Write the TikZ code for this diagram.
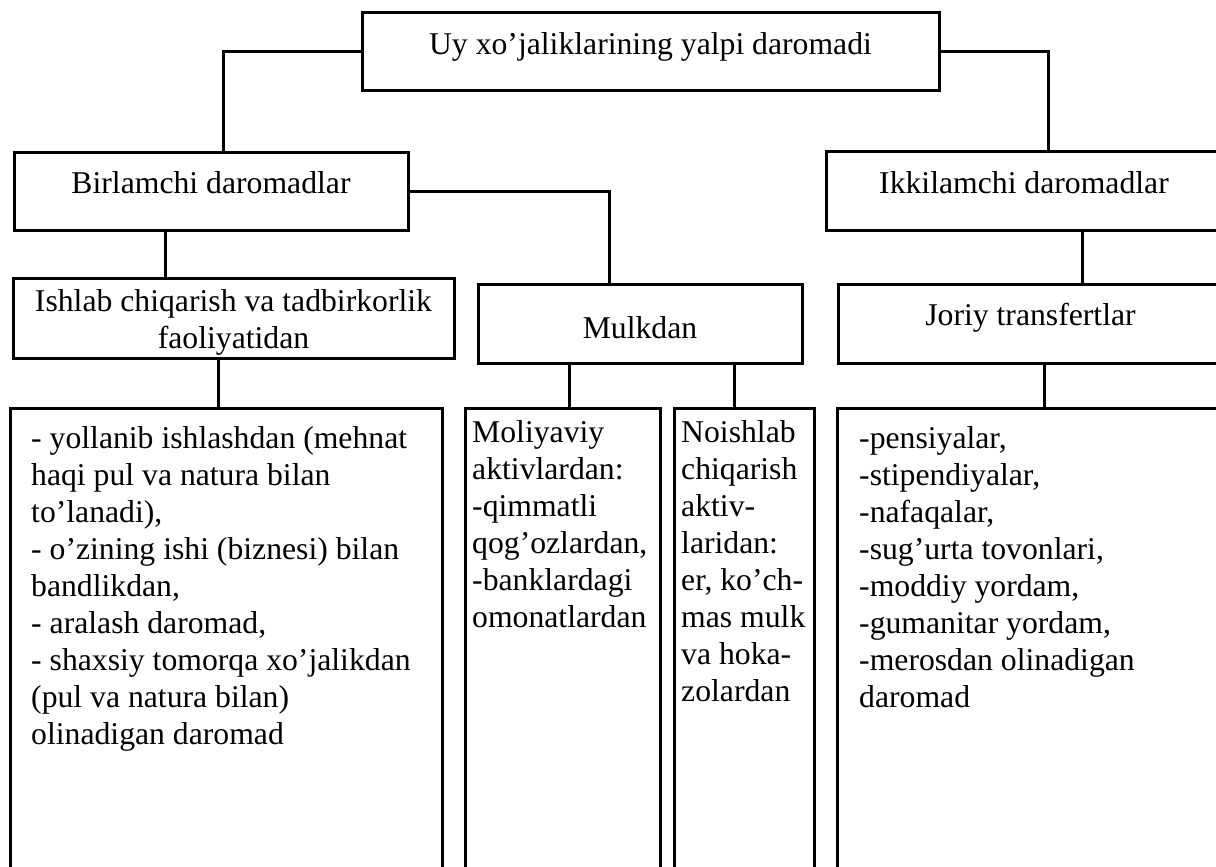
\documentclass[tikz,border=0pt]{standalone}
\usepackage{fontspec}
\setmainfont{Liberation Serif}
\tikzset{
  box/.style={draw=black, line width=3pt, inner sep=0pt, outer sep=0pt, anchor=north west},
  conn/.style={draw=black, line width=3pt},
  lbl/.style={inner sep=0pt, anchor=base, font=\fontsize{31.7}{37}\selectfont},
  lst/.style={inner sep=0pt, anchor=base west, font=\fontsize{31.7}{37}\selectfont},
}
\begin{document}
\begin{tikzpicture}[x=1pt, y=-1pt]
\useasboundingbox (0,0) rectangle (1216,867);
\fill[white] (0,0) rectangle (1216,867);
\clip (0,0) rectangle (1216,867);

% boxes
\node[box, minimum width=577pt, minimum height=78pt] (top) at (362,13) {};
\node[box, minimum width=394pt, minimum height=78pt] (birl) at (14,152) {};
\node[box, minimum width=396pt, minimum height=79pt] (ikki) at (826,151) {};
\node[box, minimum width=441pt, minimum height=80pt] (ishlab) at (13,278) {};
\node[box, minimum width=324pt, minimum height=79pt] (mulk) at (478,284) {};
\node[box, minimum width=385pt, minimum height=79pt] (joriy) at (838,284) {};
\node[box, minimum width=432pt, minimum height=492pt] (lb) at (10,408) {};
\node[box, minimum width=195pt, minimum height=492pt] (mol) at (465,408) {};
\node[box, minimum width=140pt, minimum height=492pt] (noi) at (674,408) {};
\node[box, minimum width=393pt, minimum height=492pt] (rb) at (837,408) {};

% texts
\node[lbl] (ttop) at (650.5,55) {Uy xo’jaliklarining yalpi daromadi};
\node[lbl] (tbirl) at (211,193) {Birlamchi daromadlar};
\node[lbl] (tikki) at (1024,193) {Ikkilamchi daromadlar};
\node[lbl] (tishlab) at (233.5,311) {\begin{tabular}[t]{@{}c@{}}Ishlab chiqarish va tadbirkorlik\\ faoliyatidan\end{tabular}};
\node[lbl] (tmulk) at (640,338) {Mulkdan};
\node[lbl] (tjoriy) at (1030.5,325) {Joriy transfertlar};

\node[lst] (tlb) at (31,448) {\begin{tabular}[t]{@{}l@{}}- yollanib ishlashdan (mehnat\\ haqi pul va natura bilan\\ to’lanadi),\\ - o’zining ishi (biznesi) bilan\\ bandlikdan,\\ - aralash daromad,\\ - shaxsiy tomorqa xo’jalikdan\\ (pul va natura bilan)\\ olinadigan daromad\end{tabular}};
\node[lst] (tmol) at (472,442) {\begin{tabular}[t]{@{}l@{}}Moliyaviy\\ aktivlardan:\\ -qimmatli\\ qog’ozlardan,\\ -banklardagi\\ omonatlardan\end{tabular}};
\node[lst] (tnoi) at (681,442) {\begin{tabular}[t]{@{}l@{}}Noishlab\\ chiqarish\\ aktiv-\\ laridan:\\ er, ko’ch-\\ mas mulk\\ va hoka-\\ zolardan\end{tabular}};
\node[lst] (trb) at (859,448) {\begin{tabular}[t]{@{}l@{}}-pensiyalar,\\ -stipendiyalar,\\ -nafaqalar,\\ -sug’urta tovonlari,\\ -moddiy yordam,\\ -gumanitar yordam,\\ -merosdan olinadigan\\ daromad\end{tabular}};

% connectors
\draw[conn] (top.west) -| ([xshift=12pt]birl.north);
\draw[conn] (top.east) -| ([xshift=24pt]ikki.north);
\draw[conn] (birl.east) -| ([xshift=-31pt]mulk.north);
\coordinate (c1) at ([xshift=-46pt]birl.south);
\draw[conn] (c1) -- (c1 |- ishlab.north);
\coordinate (c2) at ([xshift=-15.5pt]ishlab.south);
\draw[conn] (c2) -- (c2 |- lb.north);
\coordinate (c3) at ([xshift=-71pt]mulk.south);
\draw[conn] (c3) -- (c3 |- mol.north);
\coordinate (c4) at ([xshift=94pt]mulk.south);
\draw[conn] (c4) -- (c4 |- noi.north);
\coordinate (c5) at ([xshift=58pt]ikki.south);
\draw[conn] (c5) -- (c5 |- joriy.north);
\coordinate (c6) at ([xshift=13.5pt]joriy.south);
\draw[conn] (c6) -- (c6 |- rb.north);
\end{tikzpicture}
\end{document}
